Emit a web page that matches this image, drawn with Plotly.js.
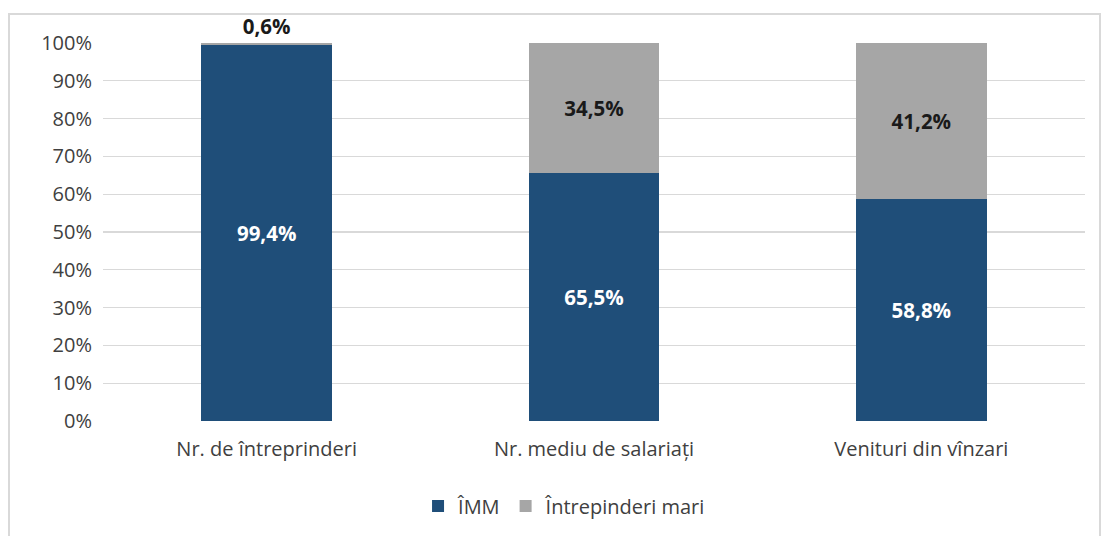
<!DOCTYPE html>
<html>
<head>
<meta charset="utf-8">
<script src="https://cdn.plot.ly/plotly-3.0.1.min.js"></script>
<style>html,body{margin:0;padding:0;background:#fff;}#chart{width:1101px;height:536px;}</style>
</head>
<body>
<div id="chart"></div>
<script>
const categories = ["Nr. de întreprinderi", "Nr. mediu de salariați", "Venituri din vînzari"];
const immValues = [99.4, 65.5, 58.8];
const mariValues = [0.6, 34.5, 41.2];
const seriesNames = ["ÎMM", "Întrepinderi mari"];
const yTickVals = [0, 10, 20, 30, 40, 50, 60, 70, 80, 90, 100];
const yTickText = ["0%", "10%", "20%", "30%", "40%", "50%", "60%", "70%", "80%", "90%", "100%"];

const fmt = v => v.toFixed(1).replace('.', ',') + '%';
const FONT = "'Open Sans', sans-serif";

const traces = [
  {
    type: 'bar', name: seriesNames[0], x: categories, y: immValues,
    marker: {color: '#1F4E79'}, width: 0.4,
    text: immValues.map(fmt), textposition: 'inside', insidetextanchor: 'middle',
    textfont: {family: FONT, size: 20.5, color: '#ffffff', weight: 'bold'},
    hoverinfo: 'none'
  },
  {
    type: 'bar', name: seriesNames[1], x: categories, y: mariValues,
    marker: {color: '#A6A6A6'}, width: 0.4,
    text: mariValues.map(fmt), textposition: mariValues.map(v => v < 5 ? 'outside' : 'inside'),
    insidetextanchor: 'middle', cliponaxis: false, constraintext: 'none',
    textfont: {family: FONT, size: 20.5, color: '#1a1a1a', weight: 'bold'},
    hoverinfo: 'none'
  }
];

const layout = {
  width: 1101, height: 536,
  margin: {l: 103, r: 16, t: 43, b: 114},
  barmode: 'stack',
  paper_bgcolor: '#ffffff', plot_bgcolor: '#ffffff',
  font: {family: FONT, size: 20, color: '#404040'},
  showlegend: true,
  legend: {orientation: 'h', x: 0.47, xanchor: 'center', y: -0.17, yanchor: 'top',
           font: {family: FONT, size: 20, color: '#404040'}, traceorder: 'normal', itemwidth: 30},
  xaxis: {type: 'category', showgrid: false, zeroline: false, showline: false, ticks: '',
          tickfont: {family: FONT, size: 20, color: '#404040'}, ticklabelstandoff: 14},
  yaxis: {range: [0, 100], tickvals: yTickVals, ticktext: yTickText, showgrid: true,
          gridcolor: '#D9D9D9', gridwidth: 1.3, zeroline: false, showline: false, ticks: '',
          tickfont: {family: FONT, size: 20, color: '#404040'}, ticklabelstandoff: 10},
  shapes: [{type: 'rect', xref: 'paper', yref: 'paper', x0: -0.0957, x1: 1.0153, y0: -0.32, y1: 1.0765,
            line: {color: '#D9D9D9', width: 2}, fillcolor: 'rgba(0,0,0,0)', layer: 'below'}]
};

Plotly.newPlot('chart', traces, layout, {displayModeBar: false, staticPlot: true});
</script>
</body>
</html>
